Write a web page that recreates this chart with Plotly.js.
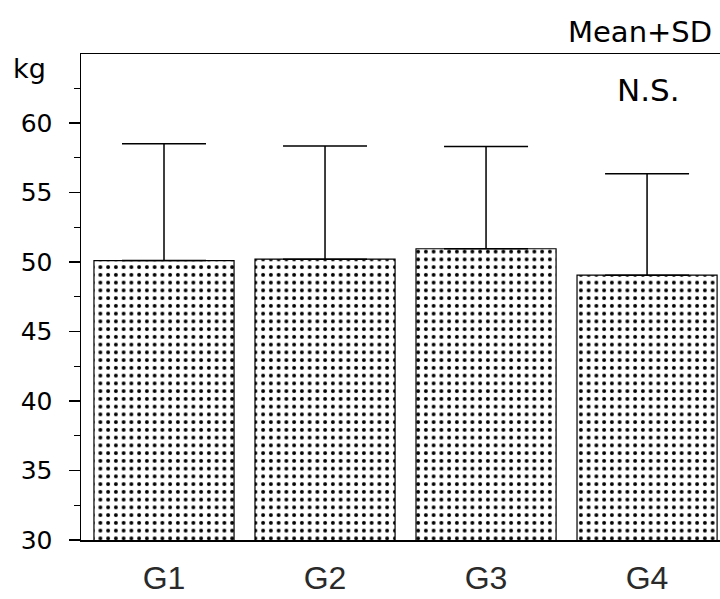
<!DOCTYPE html>
<html>
<head>
<meta charset="utf-8">
<script src="https://cdn.plot.ly/plotly-3.0.1.min.js"></script>
<style>html,body{margin:0;padding:0;background:#fff;}</style>
</head>
<body>
<div id="chart" style="width:720px;height:599px;"></div>
<script>
const groups = ["G1", "G2", "G3", "G4"];
const means = [50.1, 50.2, 50.95, 49.05];
const sds = [8.4, 8.15, 7.35, 7.3];
const yTickVals = [30, 35, 40, 45, 50, 55, 60];
const yMinorVals = [32.5, 37.5, 42.5, 47.5, 52.5, 57.5, 62.5];

const trace = {
  type: "bar",
  x: groups,
  y: means,
  width: 0.87,
  marker: {
    color: "#ffffff",
    line: {color: "#000000", width: 1.2},
    pattern: {shape: ".", fgcolor: "#000000", bgcolor: "#ffffff", size: 7.75, solidity: 0.2, fillmode: "replace"}
  },
  error_y: {
    type: "data",
    symmetric: false,
    array: sds,
    arrayminus: [0, 0, 0, 0],
    color: "#000000",
    thickness: 1.5,
    width: 42
  },
  hoverinfo: "none"
};

const layout = {
  width: 720,
  height: 599,
  margin: {l: 81, r: 0, t: 54, b: 59},
  paper_bgcolor: "#ffffff",
  plot_bgcolor: "#ffffff",
  showlegend: false,
  font: {family: "DejaVu Sans, sans-serif", color: "#000000"},
  xaxis: {
    range: [-0.5155, 3.453],
    showline: true,
    mirror: true,
    linecolor: "#000000",
    linewidth: 1.5,
    ticks: "",
    showgrid: false,
    zeroline: false,
    tickfont: {family: "Liberation Sans, Arial, sans-serif", size: 32, color: "#2a2a2a"},
    ticklabelstandoff: 9
  },
  yaxis: {
    range: [30, 64.96],
    tickmode: "array",
    tickvals: yTickVals,
    ticktext: yTickVals.map(String),
    ticks: "outside",
    ticklen: 11,
    tickwidth: 1.3,
    tickcolor: "#000000",
    showline: true,
    linecolor: "#000000",
    linewidth: 1.5,
    showgrid: false,
    zeroline: false,
    tickfont: {family: "DejaVu Sans, sans-serif", size: 25, color: "#000000"},
    ticklabelstandoff: 11,
    minor: {
      tickmode: "array",
      tickvals: yMinorVals,
      ticks: "outside",
      ticklen: 6,
      tickwidth: 1.2,
      tickcolor: "#000000",
      showgrid: false
    }
  },
  annotations: [
    {text: "kg", xref: "paper", yref: "paper", x: -0.11, y: 0.971, xanchor: "left", yanchor: "middle", showarrow: false, font: {size: 27, color: "#000000"}},
    {text: "Mean+SD", xref: "paper", yref: "paper", x: 0.99, y: 1.045, xanchor: "right", yanchor: "middle", showarrow: false, font: {size: 29, color: "#000000"}},
    {text: "N.S.", xref: "paper", yref: "paper", x: 0.94, y: 0.926, xanchor: "right", yanchor: "middle", showarrow: false, font: {size: 31, color: "#000000"}}
  ]
};

Plotly.newPlot("chart", [trace], layout, {displayModeBar: false, staticPlot: true});
</script>
</body>
</html>
